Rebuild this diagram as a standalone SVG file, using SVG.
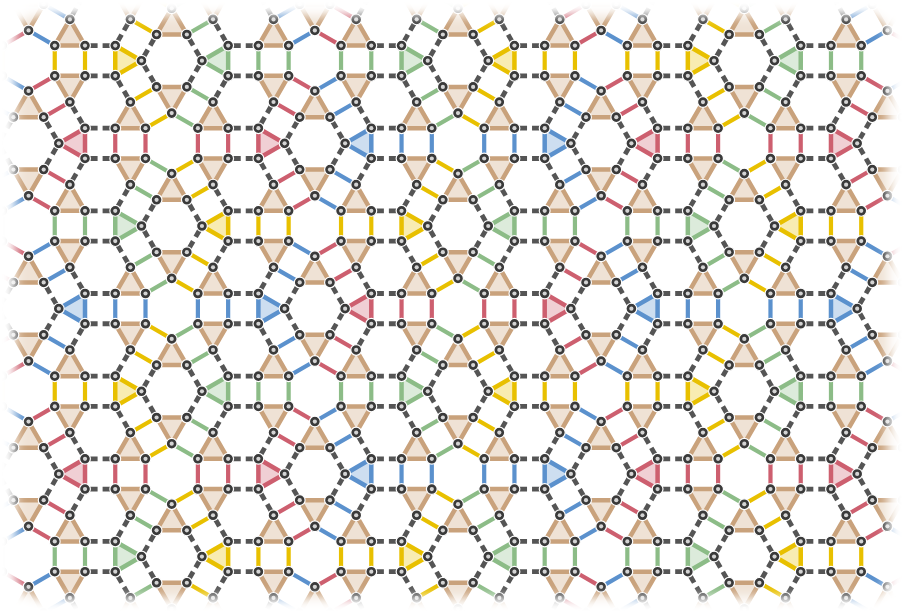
<svg xmlns="http://www.w3.org/2000/svg" width="904" height="613" viewBox="0 0 904 613">
<style>
.b{fill:#efe2d5;stroke:#c9a27c;stroke-width:4.5;stroke-linejoin:round}
.d{fill:none;stroke:#555;stroke-width:4.8;stroke-dasharray:8 5;stroke-dashoffset:8.4}
.c{fill:none;stroke:currentColor;stroke-width:4.2}
.t{fill:currentColor;fill-opacity:.3;stroke:currentColor;stroke-width:4.5;stroke-linejoin:round}
.R{color:#cd5f6f}.Y{color:#e8c000}.G{color:#8cbc87}.B{color:#5b91cd}
</style>
<defs>
<filter id="bl" x="-0.1" y="-0.1" width="1.2" height="1.2"><feGaussianBlur stdDeviation="6"/></filter>
<mask id="fade" maskUnits="userSpaceOnUse" x="0" y="0" width="904" height="613">
<rect x="16" y="16" width="872" height="581" rx="22" fill="#fff" filter="url(#bl)"/>
</mask>
<g id="nd"><circle r="5.4" fill="#3a3a3a" stroke="#fff" stroke-width="1.2"/><circle r="2.1" fill="#d4d4d4"/></g>
<g id="seg">
<path class="c" d="M15.13-26.2L41.32-41.32M15.13 26.2L41.32 41.32M86.7-15.13V15.13M116.95-15.13V15.13M169.34-15.13V15.13M199.59-15.13V15.13M0-52.4L26.2-67.52M0 52.4L26.2 67.52M286.29-52.4L260.09-67.52M286.29 52.4L260.09 67.52M271.16-26.2L244.97-41.32M271.16 26.2L244.97 41.32"/>
<polygon class="t" points="30.25,0 56.45,-15.13 56.45,15.13"/>
<polygon class="t" points="256.04,0 229.84,-15.13 229.84,15.13"/>
</g>
<g id="base">
<polygon class="b" points="-15.13,-26.2 15.13,-26.2 0,-52.4"/>
<polygon class="b" points="-15.13,26.2 15.13,26.2 0,52.4"/>
<polygon class="b" points="86.7,-15.13 116.95,-15.13 101.82,-41.32"/>
<polygon class="b" points="86.7,15.13 116.95,15.13 101.82,41.32"/>
<polygon class="b" points="169.34,-15.13 199.59,-15.13 184.47,-41.32"/>
<polygon class="b" points="169.34,15.13 199.59,15.13 184.47,41.32"/>
<path class="d" d="M-30.25 0L-15.13-26.2M15.13-26.2L30.25 0M30.25 0L15.13 26.2M-15.13 26.2L-30.25 0M56.45-15.13H86.7M56.45 15.13H86.7M199.59-15.13H229.84M199.59 15.13H229.84M56.45-15.13L41.32-41.32M56.45 15.13L41.32 41.32M-56.45-15.13L-41.32-41.32M-56.45 15.13L-41.32 41.32"/>
</g>
<g id="nodes">
<use href="#nd" x="-30.25" y="0"/><use href="#nd" x="-15.13" y="-26.2"/><use href="#nd" x="15.13" y="-26.2"/><use href="#nd" x="30.25" y="0"/><use href="#nd" x="15.13" y="26.2"/><use href="#nd" x="-15.13" y="26.2"/>
<use href="#nd" x="56.45" y="-15.13"/><use href="#nd" x="56.45" y="15.13"/>
<use href="#nd" x="86.7" y="-15.13"/><use href="#nd" x="116.95" y="-15.13"/><use href="#nd" x="116.95" y="15.13"/><use href="#nd" x="86.7" y="15.13"/>
<use href="#nd" x="101.82" y="-41.32"/><use href="#nd" x="101.82" y="41.32"/>
<use href="#nd" x="143.15" y="-30.25"/><use href="#nd" x="143.15" y="30.25"/>
<use href="#nd" x="169.34" y="-15.13"/><use href="#nd" x="199.59" y="-15.13"/><use href="#nd" x="199.59" y="15.13"/><use href="#nd" x="169.34" y="15.13"/>
<use href="#nd" x="184.47" y="-41.32"/><use href="#nd" x="184.47" y="41.32"/>
<use href="#nd" x="229.84" y="-15.13"/><use href="#nd" x="229.84" y="15.13"/>
</g>
</defs>
<rect width="904" height="613" fill="#fff"/>
<g mask="url(#fade)">
<g id="connectors-colored">
<use href="#seg" class="R" x="-257.74" y="-21.95"/><use href="#seg" class="B" x="28.55" y="-21.95"/><use href="#seg" class="R" x="314.85" y="-21.95"/><use href="#seg" class="B" x="601.14" y="-21.95"/><use href="#seg" class="R" x="887.43" y="-21.95"/>
<use href="#seg" class="Y" x="-114.59" y="60.7"/><use href="#seg" class="G" x="171.7" y="60.7"/><use href="#seg" class="Y" x="457.99" y="60.7"/><use href="#seg" class="G" x="744.28" y="60.7"/>
<use href="#seg" class="B" x="-257.74" y="143.35"/><use href="#seg" class="R" x="28.55" y="143.35"/><use href="#seg" class="B" x="314.85" y="143.35"/><use href="#seg" class="R" x="601.14" y="143.35"/><use href="#seg" class="B" x="887.43" y="143.35"/>
<use href="#seg" class="G" x="-114.59" y="225.99"/><use href="#seg" class="Y" x="171.7" y="225.99"/><use href="#seg" class="G" x="457.99" y="225.99"/><use href="#seg" class="Y" x="744.28" y="225.99"/>
<use href="#seg" class="R" x="-257.74" y="308.64"/><use href="#seg" class="B" x="28.55" y="308.64"/><use href="#seg" class="R" x="314.85" y="308.64"/><use href="#seg" class="B" x="601.14" y="308.64"/><use href="#seg" class="R" x="887.43" y="308.64"/>
<use href="#seg" class="Y" x="-114.59" y="391.28"/><use href="#seg" class="G" x="171.7" y="391.28"/><use href="#seg" class="Y" x="457.99" y="391.28"/><use href="#seg" class="G" x="744.28" y="391.28"/>
<use href="#seg" class="B" x="-257.74" y="473.93"/><use href="#seg" class="R" x="28.55" y="473.93"/><use href="#seg" class="B" x="314.85" y="473.93"/><use href="#seg" class="R" x="601.14" y="473.93"/><use href="#seg" class="B" x="887.43" y="473.93"/>
<use href="#seg" class="G" x="-114.59" y="556.57"/><use href="#seg" class="Y" x="171.7" y="556.57"/><use href="#seg" class="G" x="457.99" y="556.57"/><use href="#seg" class="Y" x="744.28" y="556.57"/>
<use href="#seg" class="R" x="-257.74" y="639.22"/><use href="#seg" class="B" x="28.55" y="639.22"/><use href="#seg" class="R" x="314.85" y="639.22"/><use href="#seg" class="B" x="601.14" y="639.22"/><use href="#seg" class="R" x="887.43" y="639.22"/>
</g>
<g id="connectors-base">
<use href="#base" x="-257.74" y="-21.95"/><use href="#base" x="28.55" y="-21.95"/><use href="#base" x="314.85" y="-21.95"/><use href="#base" x="601.14" y="-21.95"/><use href="#base" x="887.43" y="-21.95"/>
<use href="#base" x="-114.59" y="60.7"/><use href="#base" x="171.7" y="60.7"/><use href="#base" x="457.99" y="60.7"/><use href="#base" x="744.28" y="60.7"/>
<use href="#base" x="-257.74" y="143.35"/><use href="#base" x="28.55" y="143.35"/><use href="#base" x="314.85" y="143.35"/><use href="#base" x="601.14" y="143.35"/><use href="#base" x="887.43" y="143.35"/>
<use href="#base" x="-114.59" y="225.99"/><use href="#base" x="171.7" y="225.99"/><use href="#base" x="457.99" y="225.99"/><use href="#base" x="744.28" y="225.99"/>
<use href="#base" x="-257.74" y="308.64"/><use href="#base" x="28.55" y="308.64"/><use href="#base" x="314.85" y="308.64"/><use href="#base" x="601.14" y="308.64"/><use href="#base" x="887.43" y="308.64"/>
<use href="#base" x="-114.59" y="391.28"/><use href="#base" x="171.7" y="391.28"/><use href="#base" x="457.99" y="391.28"/><use href="#base" x="744.28" y="391.28"/>
<use href="#base" x="-257.74" y="473.93"/><use href="#base" x="28.55" y="473.93"/><use href="#base" x="314.85" y="473.93"/><use href="#base" x="601.14" y="473.93"/><use href="#base" x="887.43" y="473.93"/>
<use href="#base" x="-114.59" y="556.57"/><use href="#base" x="171.7" y="556.57"/><use href="#base" x="457.99" y="556.57"/><use href="#base" x="744.28" y="556.57"/>
<use href="#base" x="-257.74" y="639.22"/><use href="#base" x="28.55" y="639.22"/><use href="#base" x="314.85" y="639.22"/><use href="#base" x="601.14" y="639.22"/><use href="#base" x="887.43" y="639.22"/>
</g>
<g id="node-cells">
<use href="#nodes" x="-257.74" y="-21.95"/><use href="#nodes" x="28.55" y="-21.95"/><use href="#nodes" x="314.85" y="-21.95"/><use href="#nodes" x="601.14" y="-21.95"/><use href="#nodes" x="887.43" y="-21.95"/>
<use href="#nodes" x="-114.59" y="60.7"/><use href="#nodes" x="171.7" y="60.7"/><use href="#nodes" x="457.99" y="60.7"/><use href="#nodes" x="744.28" y="60.7"/>
<use href="#nodes" x="-257.74" y="143.35"/><use href="#nodes" x="28.55" y="143.35"/><use href="#nodes" x="314.85" y="143.35"/><use href="#nodes" x="601.14" y="143.35"/><use href="#nodes" x="887.43" y="143.35"/>
<use href="#nodes" x="-114.59" y="225.99"/><use href="#nodes" x="171.7" y="225.99"/><use href="#nodes" x="457.99" y="225.99"/><use href="#nodes" x="744.28" y="225.99"/>
<use href="#nodes" x="-257.74" y="308.64"/><use href="#nodes" x="28.55" y="308.64"/><use href="#nodes" x="314.85" y="308.64"/><use href="#nodes" x="601.14" y="308.64"/><use href="#nodes" x="887.43" y="308.64"/>
<use href="#nodes" x="-114.59" y="391.28"/><use href="#nodes" x="171.7" y="391.28"/><use href="#nodes" x="457.99" y="391.28"/><use href="#nodes" x="744.28" y="391.28"/>
<use href="#nodes" x="-257.74" y="473.93"/><use href="#nodes" x="28.55" y="473.93"/><use href="#nodes" x="314.85" y="473.93"/><use href="#nodes" x="601.14" y="473.93"/><use href="#nodes" x="887.43" y="473.93"/>
<use href="#nodes" x="-114.59" y="556.57"/><use href="#nodes" x="171.7" y="556.57"/><use href="#nodes" x="457.99" y="556.57"/><use href="#nodes" x="744.28" y="556.57"/>
<use href="#nodes" x="-257.74" y="639.22"/><use href="#nodes" x="28.55" y="639.22"/><use href="#nodes" x="314.85" y="639.22"/><use href="#nodes" x="601.14" y="639.22"/><use href="#nodes" x="887.43" y="639.22"/>
</g>
</g>
</svg>
